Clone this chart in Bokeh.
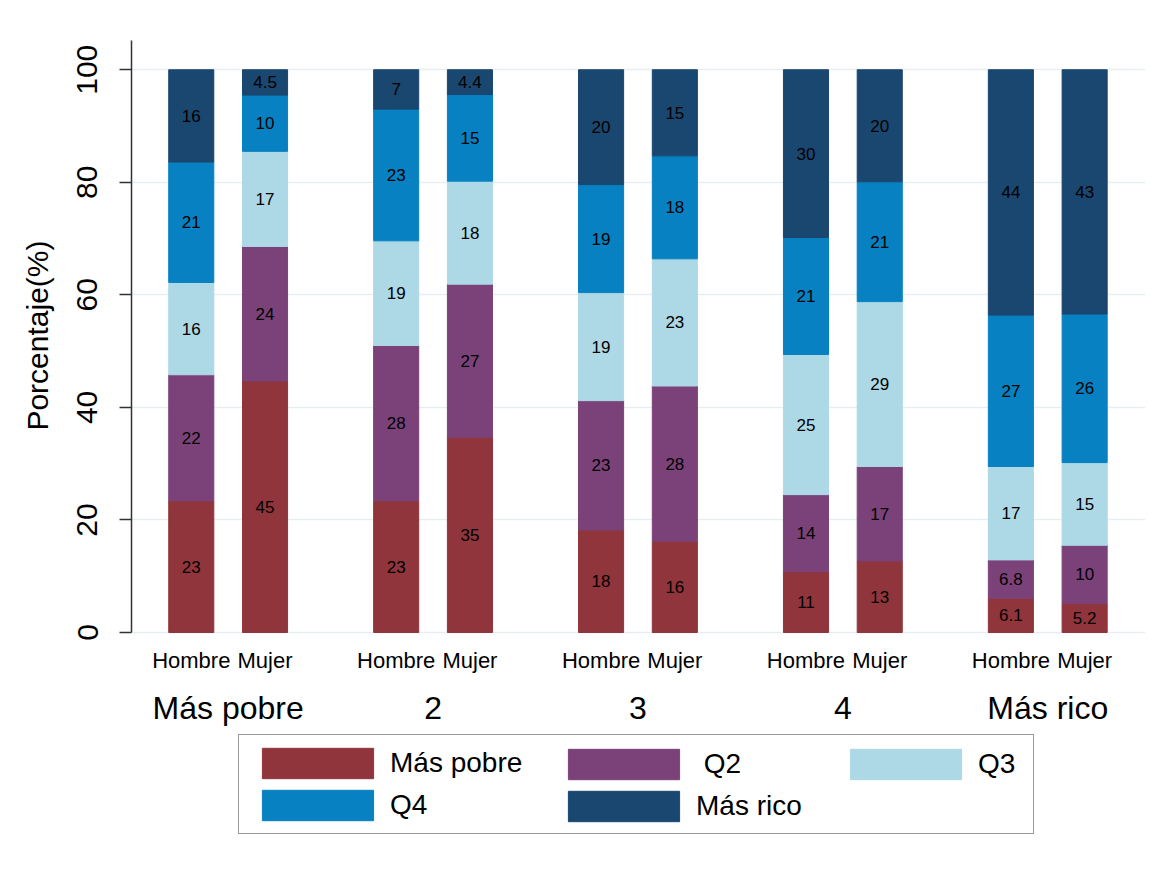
from bokeh.plotting import figure
from bokeh.models import (ColumnDataSource, FixedTicker, Legend, LegendItem, Range1d,
                          Title)
from bokeh.embed import file_html
from bokeh.resources import INLINE
from bokeh.core.properties import value

# ---------------- data ----------------
groups = ["Más pobre", "2", "3", "4", "Más rico"]
sexes = ["Hombre", "Mujer"]
series = ["Más pobre", " Q2", "Q3", "Q4", "Más rico"]

# order: (Más pobre, Hombre), (Más pobre, Mujer), (2, Hombre), ...
mas_pobre = [23.4, 44.7, 23.4, 34.7, 18.2, 16.2, 10.8, 12.7, 6.1, 5.2]
q2 = [22.4, 23.9, 27.6, 27.2, 23.0, 27.6, 13.7, 16.8, 6.8, 10.3]
q3 = [16.4, 16.9, 18.6, 18.3, 19.2, 22.6, 24.9, 29.3, 16.6, 14.7]
q4 = [21.4, 10.0, 23.4, 15.4, 19.2, 18.3, 20.8, 21.3, 26.9, 26.4]
mas_rico = [16.4, 4.5, 7.0, 4.4, 20.4, 15.3, 29.8, 19.9, 43.6, 43.4]

y_ticks = [0, 20, 40, 60, 80, 100]
y_title = "Porcentaje(%)"

colors = ["#90353b", "#7b4279", "#add8e6", "#0781c1", "#1a476f"]
FONT = "Liberation Sans"

# ---------------- layout helpers ----------------
GROUP_STEP = 100
BAR_OFFSET = 18
BAR_WIDTH = 22

W, H = 1160, 860
FRAME_L, FRAME_R, FRAME_T, FRAME_B = 131, 1145, 40, 845
Y_TOP = 105.2
# the frame is extended below zero to make room for category labels and legend
PX_PER_UNIT = (632 - FRAME_T) / Y_TOP
Y_MIN = -(FRAME_B - 632) / PX_PER_UNIT


def y_at(px_below_zero):
    return -px_below_zero / PX_PER_UNIT


group_centers = [50 + GROUP_STEP * i for i in range(len(groups))]
xs, sex_of_bar = [], []
for c in group_centers:
    for k, s in enumerate(sexes):
        xs.append(c - BAR_OFFSET if k == 0 else c + BAR_OFFSET)
        sex_of_bar.append(s)

p = figure(width=W, height=H,
           x_range=Range1d(2.83, 497.7), y_range=Range1d(Y_MIN, Y_TOP),
           output_backend="svg", toolbar_location=None,
           x_axis_location=None,
           min_border_left=FRAME_L, min_border_right=W - FRAME_R,
           min_border_top=FRAME_T, min_border_bottom=H - FRAME_B,
           background_fill_color="white", border_fill_color="white")
p.outline_line_color = None

# grid
p.xgrid.grid_line_color = None
p.ygrid.ticker = FixedTicker(ticks=y_ticks)
p.ygrid.grid_line_color = "#e6eef1"
p.ygrid.grid_line_width = 1.5

# y axis
ya = p.yaxis[0]
ya.bounds = (0, Y_TOP)
ya.ticker = FixedTicker(ticks=y_ticks)
ya.minor_tick_line_color = None
ya.major_tick_out = 12
ya.major_tick_in = 0
ya.axis_line_color = "#333333"
ya.axis_line_width = 1.5
ya.major_tick_line_color = "#333333"
ya.major_tick_line_width = 1.5
ya.major_label_orientation = "vertical"
ya.major_label_text_font = FONT
ya.major_label_text_font_size = "30px"
ya.major_label_text_color = "black"
ya.major_label_standoff = 22

# y-axis title, centred on the 0..105 part of the axis
yt = Title(text=y_title, align="right", offset=200, vertical_align="middle",
           text_font=FONT, text_font_size="30px", text_font_style="normal",
           text_color="black", standoff=39)
p.add_layout(yt, "left")

# stacked bars
bottom = [0.0] * len(xs)
items = []
for name, vals, col in zip(series, [mas_pobre, q2, q3, q4, mas_rico], colors):
    top = [b + v for b, v in zip(bottom, vals)]
    src = ColumnDataSource(dict(
        x=xs, bottom=bottom, top=top,
        mid=[(b + t) / 2 for b, t in zip(bottom, top)],
        lab=[f"{v:.2g}" for v in vals]))
    r = p.vbar(x="x", bottom="bottom", top="top", width=BAR_WIDTH, source=src,
               fill_color=col, line_color=col, line_width=1)
    p.text(x="x", y="mid", text="lab", source=src, text_align="center",
           text_baseline="middle", text_font_size="17px",
           text_font=value(FONT), text_color="black")
    items.append(LegendItem(label=name, renderers=[r]))
    bottom = top

# category labels under the bars
p.text(x=xs, y=[y_at(28)] * len(xs), text=sex_of_bar, text_align="center",
       text_baseline="middle", text_font_size="22px", text_font=value(FONT),
       text_color="black")
p.text(x=group_centers, y=[y_at(75)] * len(groups), text=groups,
       text_align="center", text_baseline="middle", text_font_size="32px",
       text_font=value(FONT), text_color="black")

# ---------------- legend: three columns, the first one carries the box ----
GLYPH_W, GLYPH_H, ROW_GAP, PAD = 139, 38, 4, 9
columns_items = [[items[0], items[3]], [items[1], items[4]], [items[2]]]
# lower-left corner of each column, in pixels from the frame's lower-left
col_loc = [(107, FRAME_B - 834), (423, FRAME_B - 825), (705, FRAME_B - 783)]
for k, (its, loc) in enumerate(zip(columns_items, col_loc)):
    leg = Legend(items=its, orientation="vertical", location=loc)
    leg.label_text_font = FONT
    leg.label_text_font_size = "28px"
    leg.label_text_color = "black"
    leg.glyph_width = GLYPH_W
    leg.glyph_height = GLYPH_H
    leg.label_standoff = 3
    leg.spacing = ROW_GAP
    leg.margin = 0
    leg.inactive_fill_alpha = 0
    if k == 0:
        leg.padding = PAD
        leg.label_width = 634
        leg.border_line_color = "#333333"
        leg.border_line_width = 1.5
        leg.background_fill_color = "white"
    else:
        leg.padding = 0
        leg.border_line_color = None
        leg.background_fill_alpha = 0
    p.add_layout(leg)

open("out.html", "w").write(file_html(p, INLINE))
